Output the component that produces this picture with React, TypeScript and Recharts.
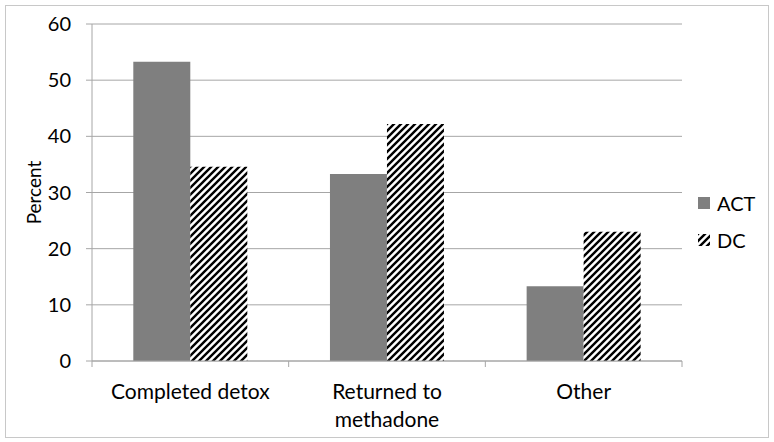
import React from 'react';
import { BarChart, Bar, XAxis, YAxis, CartesianGrid, Legend } from 'recharts';

const categories = ['Completed detox', 'Returned to methadone', 'Other'];
const actValues = [53.3, 33.3, 13.3];
const dcValues = [34.6, 42.2, 23.0];
const yTicks = [0, 10, 20, 30, 40, 50, 60];

const data = categories.map((name, i) => ({
  name,
  ACT: actValues[i],
  DC: dcValues[i],
}));

const FONT = "Lato, 'Open Sans', sans-serif";
const AXIS_GRAY = '#a6a6a6';
const ACT_FILL = '#7f7f7f';

// break long labels into lines of ~15 chars
function splitLabel(label: string, maxLen = 15): string[] {
  const words = label.split(' ');
  const lines: string[] = [];
  let cur = '';
  words.forEach((w) => {
    const next = cur ? cur + ' ' + w : w;
    if (next.length > maxLen && cur) {
      lines.push(cur);
      cur = w;
    } else {
      cur = next;
    }
  });
  if (cur) lines.push(cur);
  return lines;
}

const CategoryTick = (props: any) => {
  const { x, y, payload, index } = props;
  const half = payload.offset || 0;
  const lines = splitLabel(String(payload.value));
  return (
    <g>
      <line x1={x - half} x2={x - half} y1={y} y2={y + 6} stroke={AXIS_GRAY} />
      {index === categories.length - 1 && (
        <line x1={x + half} x2={x + half} y1={y} y2={y + 6} stroke={AXIS_GRAY} />
      )}
      <text x={x} y={y + 38} textAnchor="middle" fontFamily={FONT} fontSize={21} fill="#000">
        {lines.map((l, i) => (
          <tspan key={i} x={x} dy={i === 0 ? 0 : 28}>
            {l}
          </tspan>
        ))}
      </text>
    </g>
  );
};

const LegendContent = () => (
  <div style={{ fontFamily: FONT, fontSize: 20, color: '#000' }}>
    <div style={{ display: 'flex', alignItems: 'center', height: 37 }}>
      <svg width={12} height={12} style={{ marginRight: 7 }}>
        <rect x={0} y={0} width={12} height={12} fill={ACT_FILL} />
      </svg>
      ACT
    </div>
    <div style={{ display: 'flex', alignItems: 'center', height: 37 }}>
      <svg width={12} height={12} style={{ marginRight: 7 }}>
        <rect x={0} y={0} width={12} height={12} fill="url(#hatch)" />
      </svg>
      DC
    </div>
  </div>
);

export default function App() {
  return (
    <div style={{ position: 'absolute', left: 0, top: 0, width: 774, height: 442, background: '#fff' }}>
      <svg width={0} height={0} style={{ position: 'absolute' }}>
        <defs>
          <pattern id="hatch" patternUnits="userSpaceOnUse" width={7} height={7}>
            <rect width={7} height={7} fill="#fff" />
            <path d="M-1,1 l2,-2 M0,7 l7,-7 M6,8 l2,-2" stroke="#000" strokeWidth={2.4} />
          </pattern>
        </defs>
      </svg>
      <div
        style={{
          position: 'absolute',
          left: 5,
          top: 5,
          width: 762,
          height: 431,
          border: '1px solid #c8c8c8',
        }}
      />
      <div style={{ position: 'absolute', left: 0, top: 0 }}>
        <BarChart
          width={774}
          height={442}
          data={data}
          margin={{ top: 24, right: 22, left: 0, bottom: 0 }}
          barCategoryGap="21%"
          barGap={0}
        >
          <CartesianGrid vertical={false} stroke={AXIS_GRAY} />
          <XAxis
            dataKey="name"
            height={81}
            tickSize={0}
            tickMargin={0}
            tickLine={false}
            axisLine={{ stroke: AXIS_GRAY }}
            interval={0}
            tick={<CategoryTick />}
          />
          <YAxis
            width={92}
            domain={[0, 60]}
            ticks={yTicks}
            tickSize={6}
            tickMargin={15}
            axisLine={{ stroke: AXIS_GRAY }}
            tickLine={{ stroke: AXIS_GRAY }}
            tick={{ fontFamily: FONT, fontSize: 20, fill: '#000' }}
            label={{
              content: ({ viewBox }: any) => {
                const cx = viewBox.x + 33;
                const cy = viewBox.y + viewBox.height / 2;
                return (
                  <text
                    x={cx}
                    y={cy}
                    transform={`rotate(-90, ${cx}, ${cy})`}
                    textAnchor="middle"
                    dominantBaseline="central"
                    fontFamily={FONT}
                    fontSize={19}
                    fill="#000"
                  >
                    Percent
                  </text>
                );
              },
            }}
          />
          <Legend
            layout="vertical"
            align="right"
            verticalAlign="top"
            content={<LegendContent />}
            wrapperStyle={{ left: 698, top: 184, width: 70 }}
          />
          <Bar dataKey="ACT" fill={ACT_FILL} isAnimationActive={false} />
          <Bar dataKey="DC" fill="url(#hatch)" isAnimationActive={false} />
        </BarChart>
      </div>
    </div>
  );
}
